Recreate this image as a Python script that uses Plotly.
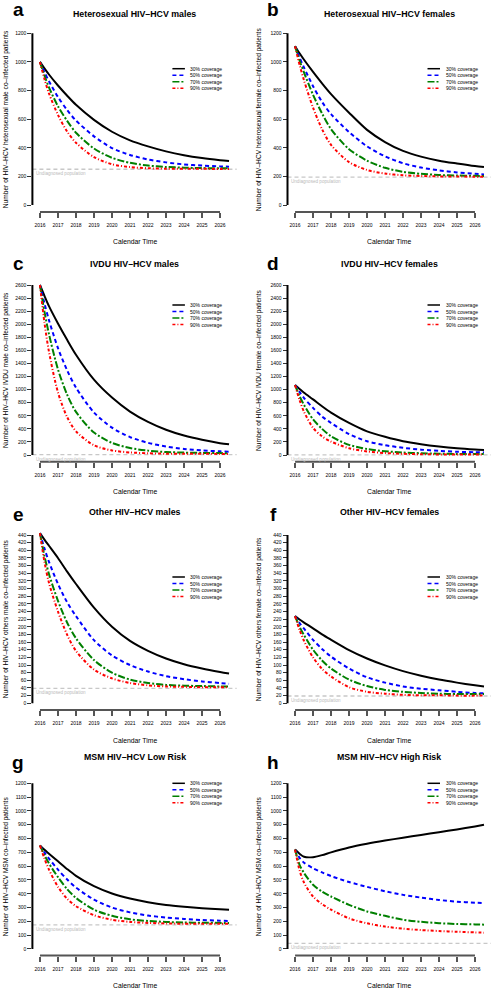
import plotly.graph_objects as go

W, H = 491, 988

# ---------------- data ----------------
years = [2016, 2016.25, 2016.5, 2017, 2017.5, 2018, 2019, 2020, 2021, 2022, 2023, 2024, 2025, 2026, 2026.5]
tick_years = list(range(2016, 2027))
coverage_labels = ["30% coverage", "50% coverage", "70% coverage", "90% coverage"]

a_cov30 = [1000, 955, 912, 835, 765, 700, 595, 512, 452, 410, 375, 348, 328, 313, 307]
a_cov50 = [1000, 928, 865, 755, 665, 590, 480, 398, 350, 318, 298, 284, 276, 270, 268]
a_cov70 = [1000, 905, 822, 690, 590, 505, 395, 330, 295, 276, 266, 261, 258, 257, 257]
a_cov90 = [1000, 880, 780, 630, 515, 435, 335, 285, 265, 257, 254, 253, 253, 252, 252]

b_cov30 = [1110, 1060, 1015, 930, 850, 775, 645, 525, 440, 378, 338, 310, 290, 272, 265]
b_cov50 = [1110, 1030, 960, 830, 720, 635, 510, 410, 340, 292, 262, 242, 228, 218, 214]
b_cov70 = [1110, 1010, 925, 770, 640, 530, 390, 310, 260, 232, 218, 210, 206, 204, 203]
b_cov90 = [1110, 980, 870, 680, 530, 420, 300, 245, 220, 208, 203, 200, 199, 198, 198]

c_cov30 = [2600, 2434, 2276, 2011, 1765, 1533, 1152, 878, 664, 506, 386, 297, 232, 181, 163]
c_cov50 = [2600, 2318, 2062, 1635, 1301, 1031, 650, 418, 274, 186, 130, 93, 70, 56, 51]
c_cov70 = [2600, 2192, 1849, 1310, 929, 660, 344, 186, 107, 67, 46, 37, 32, 29, 28]
c_cov90 = [2600, 2025, 1579, 957, 585, 362, 149, 70, 39, 26, 20, 19, 18, 17, 17]

d_cov30 = [1070, 1010, 952, 850, 745, 648, 490, 362, 278, 210, 165, 130, 103, 84, 77]
d_cov50 = [1070, 965, 870, 720, 590, 490, 320, 210, 150, 110, 82, 63, 50, 42, 40]
d_cov70 = [1070, 900, 765, 545, 400, 285, 155, 92, 58, 38, 27, 20, 16, 14, 14]
d_cov90 = [1070, 840, 660, 415, 285, 205, 103, 55, 30, 18, 12, 9, 8, 7, 7]

e_cov30 = [445, 428, 412, 380, 345, 312, 250, 200, 163, 137, 117, 102, 91, 82, 78]
e_cov50 = [445, 405, 370, 312, 265, 228, 165, 125, 100, 83, 71, 63, 57, 53, 51]
e_cov70 = [445, 385, 338, 268, 212, 170, 113, 80, 62, 53, 48, 46, 45, 44, 44]
e_cov90 = [445, 370, 315, 240, 180, 137, 88, 65, 53, 47, 44, 43, 42, 42, 42]

f_cov30 = [228, 219, 211, 196, 180, 166, 139, 117, 99, 84, 72, 62, 54, 47, 44]
f_cov50 = [228, 210, 195, 166, 142, 122, 91, 68, 54, 44, 38, 34, 30, 27, 26]
f_cov70 = [228, 200, 178, 140, 112, 91, 62, 45, 35, 30, 27, 25, 24, 24, 24]
f_cov90 = [228, 192, 163, 120, 90, 70, 42, 30, 25, 22, 21, 21, 20, 20, 20]

g_cov30 = [750, 718, 690, 635, 580, 530, 455, 402, 365, 338, 318, 305, 295, 288, 285]
g_cov50 = [750, 700, 655, 575, 505, 445, 358, 300, 265, 242, 228, 218, 210, 205, 203]
g_cov70 = [750, 680, 620, 520, 435, 370, 285, 240, 215, 203, 196, 192, 190, 189, 189]
g_cov90 = [750, 655, 575, 450, 365, 310, 245, 212, 196, 189, 185, 183, 182, 182, 182]

h_cov30 = [720, 690, 668, 665, 680, 700, 735, 762, 785, 806, 826, 846, 866, 888, 900]
h_cov50 = [720, 660, 625, 585, 555, 528, 485, 450, 418, 392, 372, 355, 343, 335, 332]
h_cov70 = [720, 610, 550, 465, 415, 380, 320, 272, 240, 212, 197, 187, 181, 178, 176]
h_cov90 = [720, 570, 480, 380, 325, 285, 222, 186, 162, 147, 137, 130, 125, 120, 118]

undiagnosed = [250, 195, 5, 3, 39, 19, 174, 41]
y_tick_max = [1200, 1200, 2600, 2600, 440, 440, 1200, 1200]
y_tick_step = [200, 200, 200, 200, 20, 20, 100, 100]

panel_letters = ["a", "b", "c", "d", "e", "f", "g", "h"]
panel_titles = [
    "Heterosexual HIV–HCV males", "Heterosexual HIV–HCV females",
    "IVDU HIV–HCV males", "IVDU HIV–HCV females",
    "Other HIV–HCV males", "Other HIV–HCV females",
    "MSM HIV–HCV Low Risk", "MSM HIV–HCV High Risk",
]
y_titles = [
    "Number of HIV–HCV heterosexual male co–infected patients",
    "Number of HIV–HCV heterosexual female co–infected patients",
    "Number of HIV–HCV IVDU male co–infected patients",
    "Number of HIV–HCV IVDU female co–infected patients",
    "Number of HIV–HCV others male co–infected patients",
    "Number of HIV–HCV others female co–infected patients",
    "Number of HIV–HCV MSM co–infected patients",
    "Number of HIV–HCV MSM co–infected patients",
]
x_title = "Calendar Time"
undiag_label = "Undiagnosed population"

series = [
    [a_cov30, a_cov50, a_cov70, a_cov90],
    [b_cov30, b_cov50, b_cov70, b_cov90],
    [c_cov30, c_cov50, c_cov70, c_cov90],
    [d_cov30, d_cov50, d_cov70, d_cov90],
    [e_cov30, e_cov50, e_cov70, e_cov90],
    [f_cov30, f_cov50, f_cov70, f_cov90],
    [g_cov30, g_cov50, g_cov70, g_cov90],
    [h_cov30, h_cov50, h_cov70, h_cov90],
]

# ---------------- styles / layout geometry ----------------
line_colors = ["#000000", "#0000FF", "#008000", "#FF0000"]
line_dashes = ["solid", "4px,3px", "7px,2px,2px,2px", "3px,2px,1px,2px"]
FONT = "Liberation Sans, Arial, Helvetica, sans-serif"

col_left = [32.4, 287.5]
col_right = [236.6, 491.0]
col_xrange = [[2015.58, 2026.92], [2015.58, 2026.89]]
row_top = [26.4, 278.2, 528.3, 776.7]
row_bot = [211.9, 461.8, 710.0, 955.6]
legend_top = [68.7, 305.0, 577.0, 783.3]
title_y = [14, 264, 512, 757]
letter_y = [9.5, 263.5, 514.5, 762.5]
letter_x = [18, 273]
ytitle_x = [6, 259]
xlabel_y = [241, 491, 740, 985]


def px(p):
    return p / W


def py(p):
    return 1 - p / H


fig = go.Figure()
shapes = []
annotations = []
layout = {}

for i in range(8):
    col, row = i % 2, i // 2
    n = i + 1
    sfx = "" if n == 1 else str(n)
    xa, ya = f"x{sfx}", f"y{sfx}"
    xkey, ykey = f"xaxis{sfx}", f"yaxis{sfx}"
    T, step = y_tick_max[i], y_tick_step[i]
    pad = 0.04 * T
    yticks = list(range(0, T + 1, step))

    for k in range(4):
        fig.add_trace(go.Scatter(
            x=years, y=series[i][k], mode="lines",
            line=dict(color=line_colors[k], width=2, dash=line_dashes[k], shape="spline", smoothing=0.8),
            xaxis=xa, yaxis=ya, showlegend=False, hoverinfo="skip",
        ))

    layout[xkey] = dict(
        domain=[px(col_left[col]), px(col_right[col])], range=col_xrange[col],
        anchor=ya, tickvals=tick_years, ticktext=[str(t) for t in tick_years],
        ticks="outside", ticklen=5, tickwidth=2, tickcolor="#555555",
        showline=False, showgrid=False, zeroline=False, fixedrange=True,
        tickfont=dict(family=FONT, size=5, color="#000"), ticklabelstandoff=3,
    )
    layout[ykey] = dict(
        domain=[py(row_bot[row]), py(row_top[row])], range=[-pad, T + pad],
        anchor=xa, tickvals=yticks, ticktext=[str(t) for t in yticks],
        ticks="outside", ticklen=4, tickwidth=1, tickcolor="#333333",
        showline=False, showgrid=False, zeroline=False, fixedrange=True,
        tickfont=dict(family=FONT, size=5, color="#000"),
    )

    # R-style axis lines spanning the tick range
    shapes.append(dict(type="line", xref=xa, yref=f"{ya} domain", x0=tick_years[0], x1=tick_years[-1],
                       y0=0, y1=0, line=dict(color="#555555", width=2)))
    shapes.append(dict(type="line", xref=f"{xa} domain", yref=ya, x0=0, x1=0,
                       y0=yticks[0], y1=yticks[-1], line=dict(color="#000000", width=2)))
    # undiagnosed population reference line
    shapes.append(dict(type="line", xref=f"{xa} domain", yref=ya, x0=0, x1=1,
                       y0=undiagnosed[i], y1=undiagnosed[i], layer="below",
                       line=dict(color="#c8c8c8", width=1.3, dash="4px,3px")))
    annotations.append(dict(xref=f"{xa} domain", yref=ya, x=0.008, y=undiagnosed[i], yshift=-4.5,
                            text=undiag_label, showarrow=False, xanchor="left", yanchor="middle",
                            font=dict(family=FONT, size=4.6, color="#bbbbbb")))

    # manual compact legend
    lx0 = col_left[col] + 140
    for k in range(4):
        yy = legend_top[row] + k * 6.5
        shapes.append(dict(type="line", xref="paper", yref="paper", x0=px(lx0), x1=px(lx0 + 12.5),
                           y0=py(yy), y1=py(yy), line=dict(color=line_colors[k], width=1.5, dash=line_dashes[k])))
        annotations.append(dict(xref="paper", yref="paper", x=px(lx0 + 16), y=py(yy),
                                text=coverage_labels[k], showarrow=False, xanchor="left", yanchor="middle",
                                font=dict(family=FONT, size=5, color="#000")))

    cx = (col_left[col] + col_right[col]) / 2
    cy = (row_top[row] + row_bot[row]) / 2
    annotations.append(dict(xref="paper", yref="paper", x=px(cx), y=py(title_y[row]),
                            text=f"<b>{panel_titles[i]}</b>", showarrow=False, xanchor="center", yanchor="middle",
                            font=dict(family=FONT, size=8.8, color="#000")))
    annotations.append(dict(xref="paper", yref="paper", x=px(letter_x[col]), y=py(letter_y[row]),
                            text=f"<b>{panel_letters[i]}</b>", showarrow=False, xanchor="center", yanchor="middle",
                            font=dict(family=FONT, size=19, color="#000")))
    annotations.append(dict(xref="paper", yref="paper", x=px(ytitle_x[col]), y=py(cy),
                            text=y_titles[i], showarrow=False, textangle=-90, xanchor="center", yanchor="middle",
                            font=dict(family=FONT, size=6.6, color="#000")))
    annotations.append(dict(xref="paper", yref="paper", x=px(cx), y=py(xlabel_y[row]),
                            text=x_title, showarrow=False, xanchor="center", yanchor="middle",
                            font=dict(family=FONT, size=6.8, color="#000")))

fig.update_layout(
    width=W, height=H, margin=dict(l=0, r=0, t=0, b=0),
    paper_bgcolor="white", plot_bgcolor="white",
    shapes=shapes, annotations=annotations, showlegend=False,
    font=dict(family=FONT), hovermode=False,
    **layout,
)

fig.write_html(
    "out.html",
    config={"displayModeBar": False, "staticPlot": True},
    post_script="document.body.style.margin='0';document.body.style.overflow='hidden';",
)
